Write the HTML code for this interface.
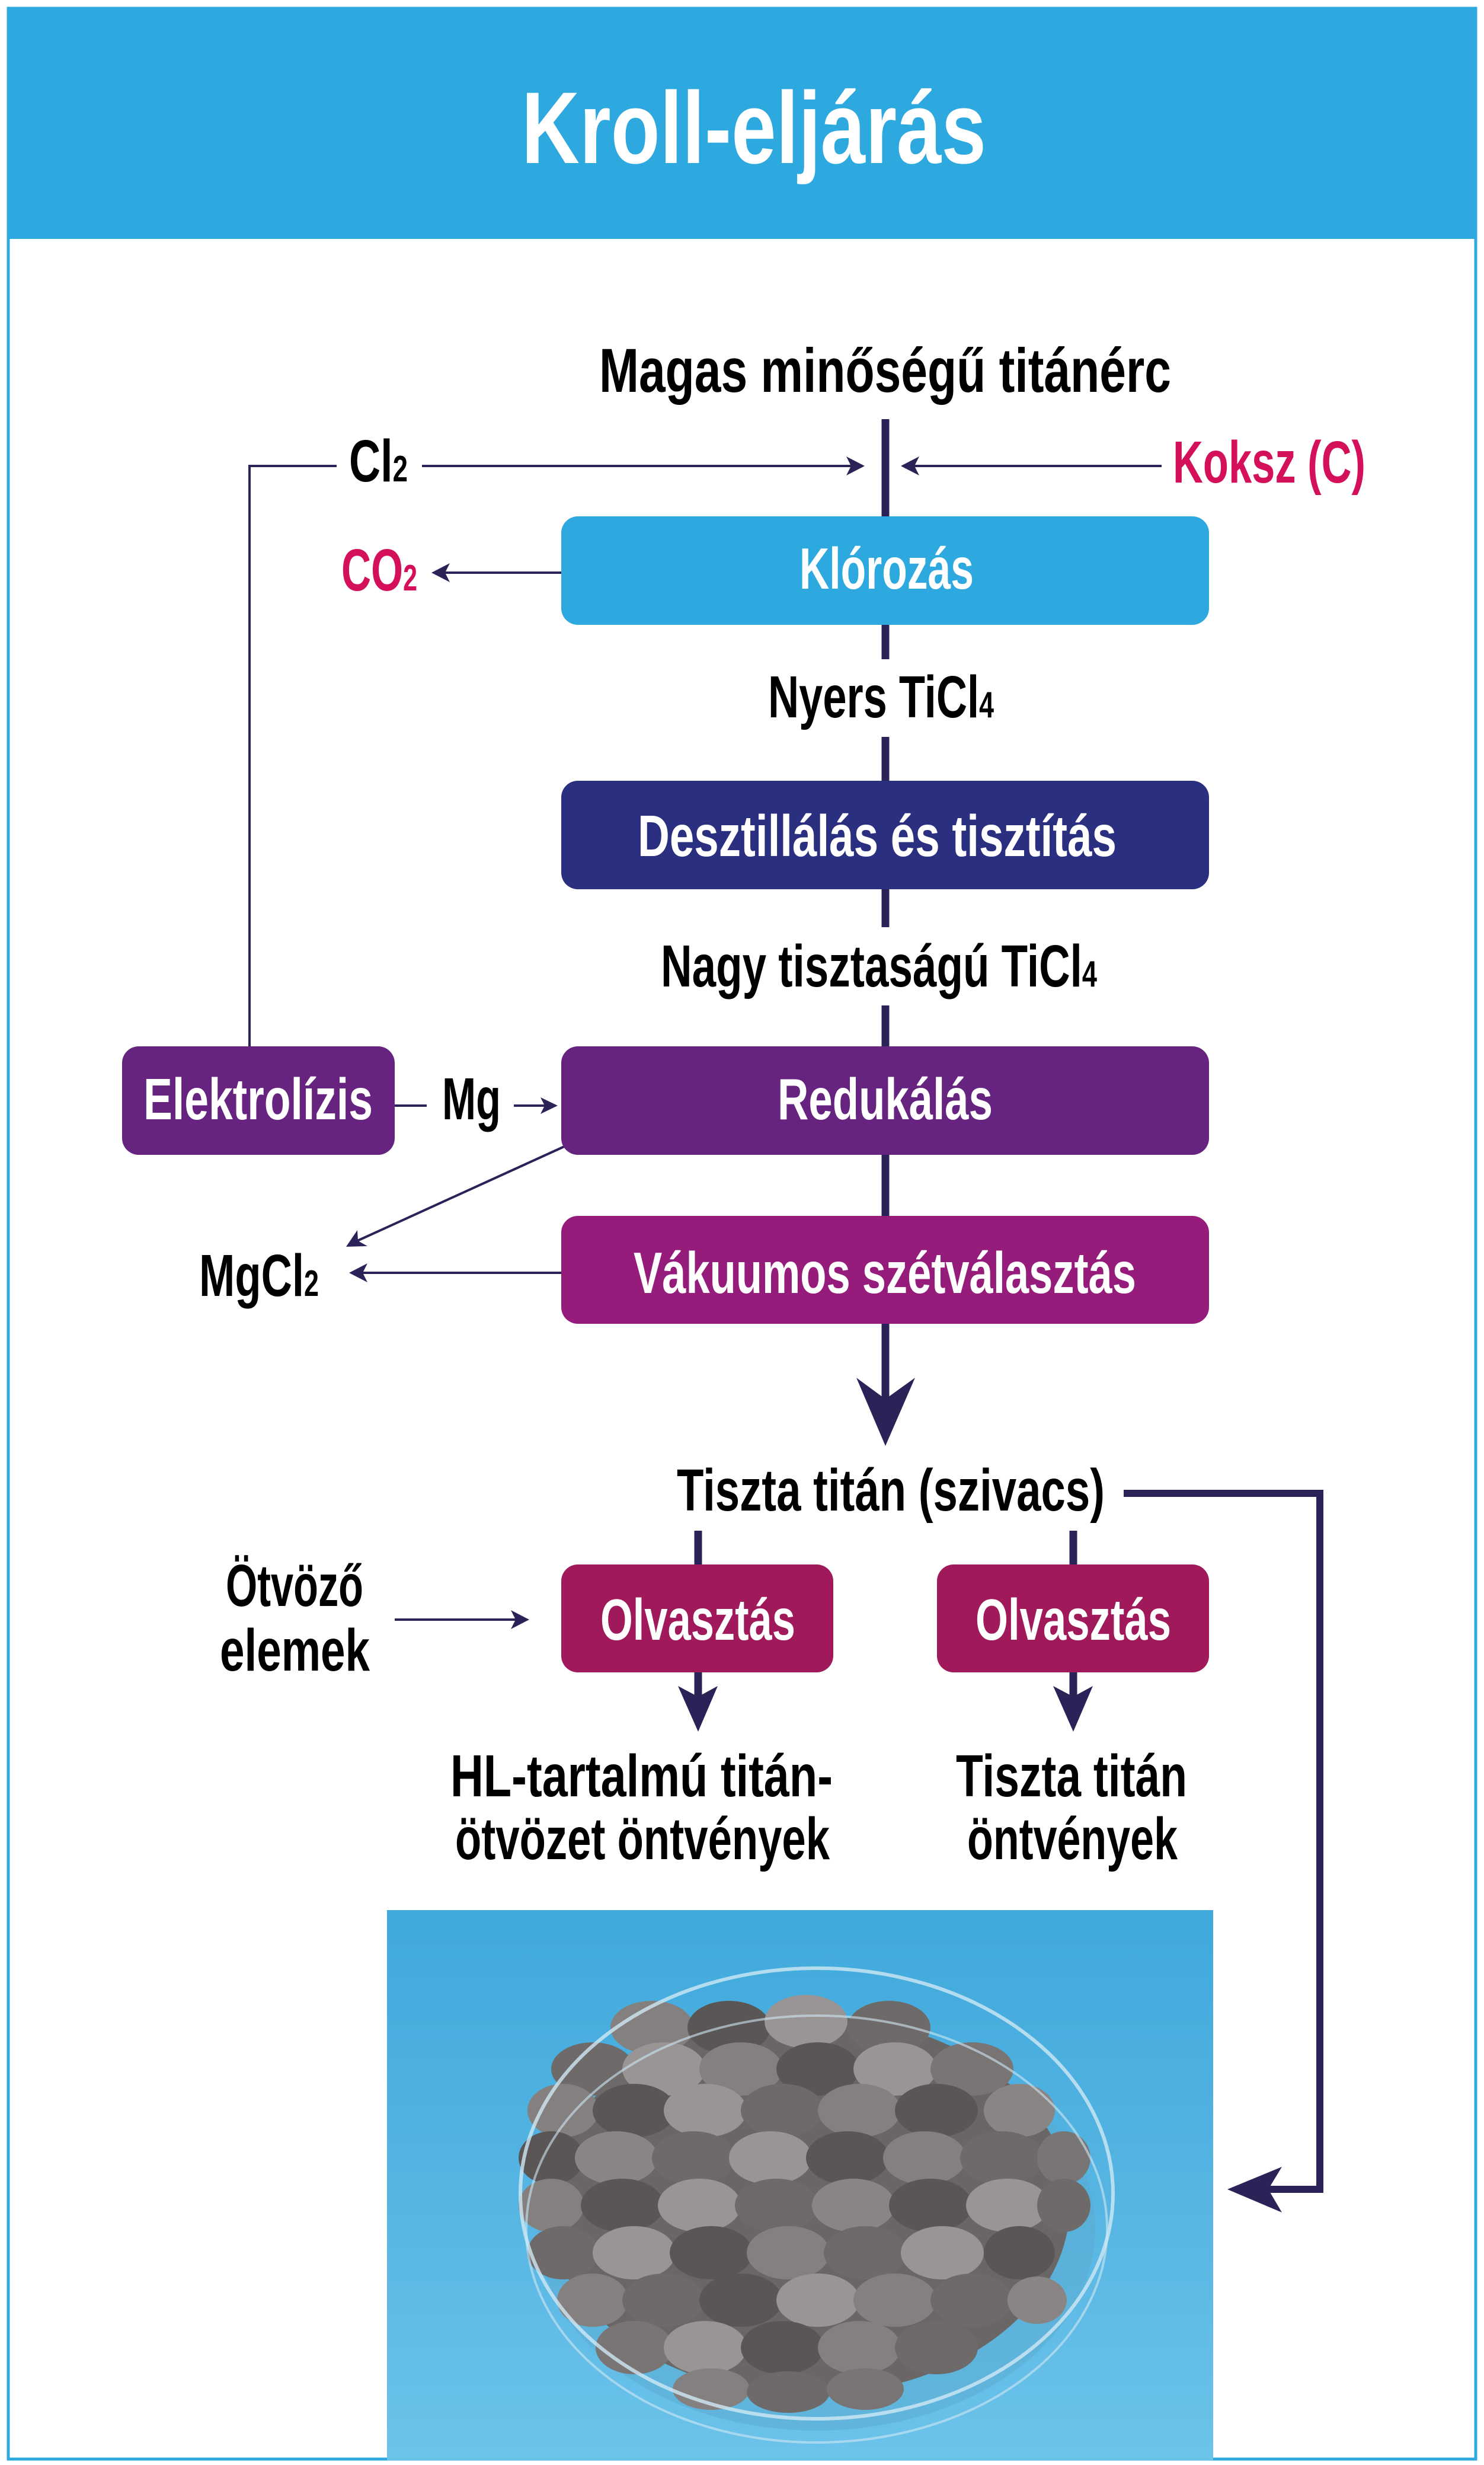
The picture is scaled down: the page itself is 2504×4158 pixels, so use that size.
<!DOCTYPE html>
<html><head><meta charset="utf-8"><style>
html,body{margin:0;padding:0;background:#fff}
svg{display:block}
text{font-family:"Liberation Sans",sans-serif;font-weight:bold}
</style></head><body>
<svg xmlns="http://www.w3.org/2000/svg" width="2504" height="4158" viewBox="0 0 2504 4158">
<defs>
<linearGradient id="bg" x1="0" y1="0" x2="0" y2="1">
<stop offset="0" stop-color="#3fa9dc"/><stop offset="0.5" stop-color="#55b4e2"/><stop offset="1" stop-color="#6cc3ea"/>
</linearGradient>
</defs>
<rect x="0" y="0" width="2504" height="4158" fill="#fff"/>
<rect x="14" y="14" width="2476" height="4134" fill="#fff" stroke="#2ea9e0" stroke-width="5"/>
<rect x="14" y="14" width="2476" height="389" fill="#2ea9e0"/>
<text x="880" y="275" font-size="172" fill="#fff" textLength="784" lengthAdjust="spacingAndGlyphs">Kroll-eljárás</text>

<g fill="#000" font-size="100">
<text x="1011" y="661" font-size="105" textLength="965" lengthAdjust="spacingAndGlyphs">Magas minőségű titánérc</text>
<text x="589" y="812" textLength="99" lengthAdjust="spacingAndGlyphs">Cl<tspan font-size="62">2</tspan></text>
<text x="1296" y="1210" textLength="381" lengthAdjust="spacingAndGlyphs">Nyers TiCl<tspan font-size="62">4</tspan></text>
<text x="1115" y="1664" textLength="736" lengthAdjust="spacingAndGlyphs">Nagy tisztaságú TiCl<tspan font-size="62">4</tspan></text>
<text x="746" y="1888" textLength="99" lengthAdjust="spacingAndGlyphs">Mg</text>
<text x="336" y="2186" textLength="202" lengthAdjust="spacingAndGlyphs">MgCl<tspan font-size="62">2</tspan></text>
<text x="1142" y="2548" textLength="722" lengthAdjust="spacingAndGlyphs">Tiszta titán (szivacs)</text>
<text x="381" y="2709" textLength="232" lengthAdjust="spacingAndGlyphs">Ötvöző</text>
<text x="371" y="2818" textLength="253" lengthAdjust="spacingAndGlyphs">elemek</text>
<text x="760" y="3030" textLength="645" lengthAdjust="spacingAndGlyphs">HL-tartalmú titán-</text>
<text x="768" y="3136" textLength="632" lengthAdjust="spacingAndGlyphs">ötvözet öntvények</text>
<text x="1613" y="3030" textLength="390" lengthAdjust="spacingAndGlyphs">Tiszta titán</text>
<text x="1632" y="3136" textLength="355" lengthAdjust="spacingAndGlyphs">öntvények</text>
</g>
<g fill="#d5105a" font-size="100">
<text x="1979" y="814" textLength="325" lengthAdjust="spacingAndGlyphs">Koksz (C)</text>
<text x="576" y="996" textLength="128" lengthAdjust="spacingAndGlyphs">CO<tspan font-size="62">2</tspan></text>
</g>

<!-- main vertical line -->
<g stroke="#2a2358" stroke-width="13" fill="none">
<line x1="1494" y1="707" x2="1494" y2="875"/>
<line x1="1494" y1="1050" x2="1494" y2="1112"/>
<line x1="1494" y1="1243" x2="1494" y2="1320"/>
<line x1="1494" y1="1498" x2="1494" y2="1564"/>
<line x1="1494" y1="1696" x2="1494" y2="1768"/>
<line x1="1494" y1="1945" x2="1494" y2="2055"/>
<line x1="1494" y1="2230" x2="1494" y2="2360"/>
<line x1="1178" y1="2582" x2="1178" y2="2642"/>
<line x1="1811" y1="2582" x2="1811" y2="2642"/>
<line x1="1178" y1="2818" x2="1178" y2="2870"/>
<line x1="1811" y1="2818" x2="1811" y2="2870"/>
<polyline points="1896,2519 2227,2519 2227,3693 2140,3693" stroke-width="12"/>
</g>
<g fill="#2a2358">
<polygon points="1445,2324 1494,2360 1544,2324 1494,2439"/>
<polygon points="1144,2844 1178,2862 1211,2844 1178,2921"/>
<polygon points="1777,2844 1811,2862 1844,2844 1811,2921"/>
<polygon points="2163,3655 2140,3693 2163,3732 2071,3693"/>
</g>

<!-- thin lines -->
<g stroke="#2a2358" stroke-width="4" fill="none">
<polyline points="421,1765 421,786 568,786"/>
<line x1="712" y1="786" x2="1450" y2="786"/>
<line x1="1960" y1="786" x2="1530" y2="786"/>
<line x1="947" y1="966" x2="738" y2="966"/>
<line x1="666" y1="1865" x2="720" y2="1865"/>
<line x1="867" y1="1865" x2="935" y2="1865"/>
<line x1="952" y1="1934" x2="592" y2="2098"/>
<line x1="947" y1="2147" x2="598" y2="2147"/>
<line x1="666" y1="2732" x2="885" y2="2732"/>
</g>
<g fill="#2a2358">
<polygon points="1459,786 1428,770 1436,786 1428,802"/>
<polygon points="1520,786 1551,770 1543,786 1551,802"/>
<polygon points="728,966 759,950 751,966 759,982"/>
<polygon points="941,1865 912,1851 919,1865 912,1879"/>
<polygon points="584,2103 603,2075 604,2093 620,2102"/>
<polygon points="589,2147 620,2131 612,2147 620,2163"/>
<polygon points="893,2732 862,2716 870,2732 862,2748"/>
</g>

<!-- boxes -->
<rect x="947" y="871" width="1093" height="183" rx="28" fill="#2ea9e0"/>
<rect x="947" y="1317" width="1093" height="183" rx="28" fill="#2b2f80"/>
<rect x="947" y="1765" width="1093" height="183" rx="28" fill="#66237f"/>
<rect x="206" y="1765" width="460" height="183" rx="28" fill="#66237f"/>
<rect x="947" y="2051" width="1093" height="182" rx="28" fill="#961c7b"/>
<rect x="947" y="2639" width="459" height="182" rx="28" fill="#a0195a"/>
<rect x="1581" y="2639" width="459" height="182" rx="28" fill="#a0195a"/>
<g fill="#fff" font-size="98">
<text x="1349" y="993" textLength="294" lengthAdjust="spacingAndGlyphs">Klórozás</text>
<text x="1076" y="1444" textLength="808" lengthAdjust="spacingAndGlyphs">Desztillálás és tisztítás</text>
<text x="1312" y="1888" textLength="363" lengthAdjust="spacingAndGlyphs">Redukálás</text>
<text x="242" y="1888" textLength="387" lengthAdjust="spacingAndGlyphs">Elektrolízis</text>
<text x="1069" y="2181" textLength="848" lengthAdjust="spacingAndGlyphs">Vákuumos szétválasztás</text>
<text x="1013" y="2766" textLength="329" lengthAdjust="spacingAndGlyphs">Olvasztás</text>
<text x="1646" y="2766" textLength="330" lengthAdjust="spacingAndGlyphs">Olvasztás</text>
</g>

<!-- photo -->
<rect x="653" y="3222" width="1394" height="928" fill="url(#bg)"/>
<ellipse cx="1378" cy="3760" rx="470" ry="340" fill="#5aa9cf" opacity="0.5"/>
<ellipse cx="1365" cy="3720" rx="440" ry="320" fill="#6a6666"/>
<g>
<ellipse cx="1100" cy="3420" rx="70" ry="45" fill="#858080"/><ellipse cx="1230" cy="3420" rx="70" ry="45" fill="#5a5656"/><ellipse cx="1360" cy="3410" rx="70" ry="45" fill="#9a9595"/><ellipse cx="1500" cy="3420" rx="70" ry="45" fill="#6e6a6a"/>
<ellipse cx="1000" cy="3490" rx="70" ry="45" fill="#6e6a6a"/><ellipse cx="1120" cy="3490" rx="70" ry="45" fill="#9a9595"/><ellipse cx="1250" cy="3490" rx="70" ry="45" fill="#858080"/><ellipse cx="1380" cy="3490" rx="70" ry="45" fill="#5a5656"/><ellipse cx="1510" cy="3490" rx="70" ry="45" fill="#9a9595"/><ellipse cx="1640" cy="3490" rx="70" ry="45" fill="#7a7575"/>
<ellipse cx="950" cy="3560" rx="60" ry="45" fill="#858080"/><ellipse cx="1070" cy="3560" rx="70" ry="45" fill="#5a5656"/><ellipse cx="1190" cy="3560" rx="70" ry="45" fill="#9a9595"/><ellipse cx="1320" cy="3560" rx="70" ry="45" fill="#6e6a6a"/><ellipse cx="1450" cy="3560" rx="70" ry="45" fill="#858080"/><ellipse cx="1580" cy="3560" rx="70" ry="45" fill="#5a5656"/><ellipse cx="1720" cy="3560" rx="60" ry="45" fill="#8a8585"/>
<ellipse cx="930" cy="3640" rx="55" ry="45" fill="#5a5656"/><ellipse cx="1040" cy="3640" rx="70" ry="45" fill="#8a8585"/><ellipse cx="1170" cy="3640" rx="70" ry="45" fill="#6e6a6a"/><ellipse cx="1300" cy="3640" rx="70" ry="45" fill="#9a9595"/><ellipse cx="1430" cy="3640" rx="70" ry="45" fill="#5a5656"/><ellipse cx="1560" cy="3640" rx="70" ry="45" fill="#858080"/><ellipse cx="1690" cy="3640" rx="70" ry="45" fill="#6e6a6a"/><ellipse cx="1795" cy="3640" rx="45" ry="45" fill="#7a7575"/>
<ellipse cx="930" cy="3720" rx="55" ry="45" fill="#858080"/><ellipse cx="1050" cy="3720" rx="70" ry="45" fill="#5a5656"/><ellipse cx="1180" cy="3720" rx="70" ry="45" fill="#9a9595"/><ellipse cx="1310" cy="3720" rx="70" ry="45" fill="#6e6a6a"/><ellipse cx="1440" cy="3720" rx="70" ry="45" fill="#8a8585"/><ellipse cx="1570" cy="3720" rx="70" ry="45" fill="#5a5656"/><ellipse cx="1700" cy="3720" rx="70" ry="45" fill="#9a9595"/><ellipse cx="1795" cy="3720" rx="45" ry="45" fill="#6e6a6a"/>
<ellipse cx="950" cy="3800" rx="60" ry="45" fill="#6e6a6a"/><ellipse cx="1070" cy="3800" rx="70" ry="45" fill="#9a9595"/><ellipse cx="1200" cy="3800" rx="70" ry="45" fill="#5a5656"/><ellipse cx="1330" cy="3800" rx="70" ry="45" fill="#858080"/><ellipse cx="1460" cy="3800" rx="70" ry="45" fill="#6e6a6a"/><ellipse cx="1590" cy="3800" rx="70" ry="45" fill="#9a9595"/><ellipse cx="1720" cy="3800" rx="60" ry="45" fill="#5a5656"/>
<ellipse cx="1000" cy="3880" rx="60" ry="45" fill="#858080"/><ellipse cx="1120" cy="3880" rx="70" ry="45" fill="#6e6a6a"/><ellipse cx="1250" cy="3880" rx="70" ry="45" fill="#5a5656"/><ellipse cx="1380" cy="3880" rx="70" ry="45" fill="#9a9595"/><ellipse cx="1510" cy="3880" rx="70" ry="45" fill="#858080"/><ellipse cx="1640" cy="3880" rx="70" ry="45" fill="#6e6a6a"/><ellipse cx="1750" cy="3880" rx="50" ry="40" fill="#8a8585"/>
<ellipse cx="1070" cy="3960" rx="65" ry="45" fill="#7a7575"/><ellipse cx="1190" cy="3960" rx="70" ry="45" fill="#9a9595"/><ellipse cx="1320" cy="3960" rx="70" ry="45" fill="#5a5656"/><ellipse cx="1450" cy="3960" rx="70" ry="45" fill="#858080"/><ellipse cx="1580" cy="3960" rx="70" ry="45" fill="#6e6a6a"/>
<ellipse cx="1200" cy="4030" rx="65" ry="35" fill="#858080"/><ellipse cx="1330" cy="4035" rx="70" ry="35" fill="#6e6a6a"/><ellipse cx="1460" cy="4030" rx="65" ry="35" fill="#7a7575"/>
</g>
<ellipse cx="1378" cy="3700" rx="500" ry="380" fill="none" stroke="#cfe8f4" stroke-width="6" opacity="0.8"/>
<ellipse cx="1378" cy="3760" rx="490" ry="360" fill="none" stroke="#cfe8f4" stroke-width="4" opacity="0.6"/>
</svg>
</body></html>
